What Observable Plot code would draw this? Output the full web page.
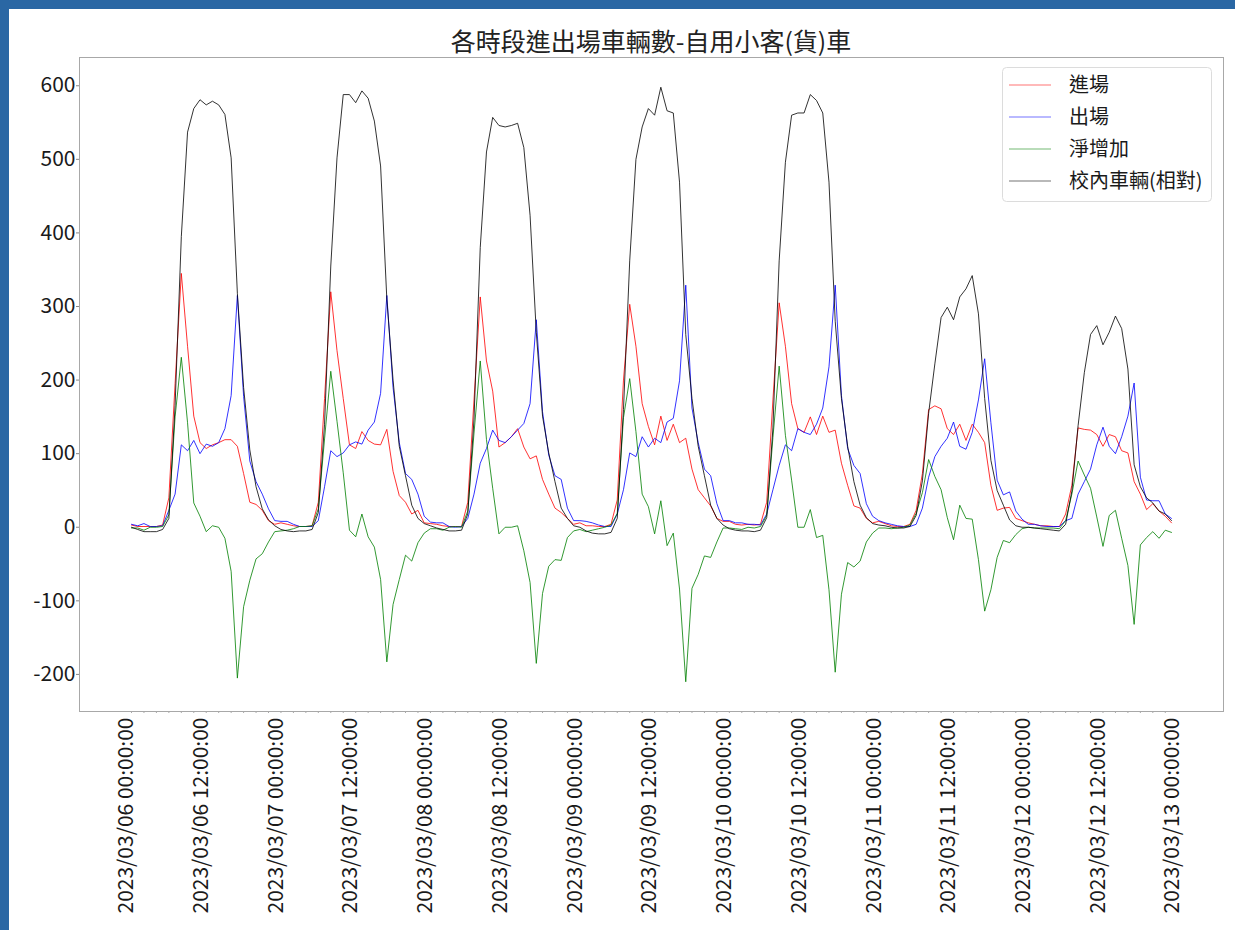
<!DOCTYPE html>
<html>
<head>
<meta charset="utf-8">
<script src="https://cdn.jsdelivr.net/npm/d3@7"></script>
<script src="https://cdn.jsdelivr.net/npm/@observablehq/plot@0.6"></script>
<style>
  html, body { margin: 0; padding: 0; background: #fff; }
  #page { position: relative; width: 1235px; height: 930px; overflow: hidden;
          font-family: "Noto Sans CJK TC", "Noto Sans CJK SC", sans-serif; }
  .band { position: absolute; background: #2a67a4; }
  #title { position: absolute; left: 79px; width: 1144px; top: 28px; text-align: center;
           font-size: 25px; line-height: 25px; color: #222; white-space: nowrap; }
  #chart { position: absolute; left: 0; top: 0; }
  #legend { position: absolute; left: 1002px; top: 67px; }
</style>
</head>
<body>
<div id="page">
  <div id="chart"></div>
  <div class="band" style="left:0;top:0;width:9px;height:930px;"></div>
  <div class="band" style="left:0;top:0;width:1235px;height:9px;"></div>
  <div id="title"></div>
  <div id="legend"></div>
</div>
<script>
// ---------------- data ----------------
const titleText = "各時段進出場車輛數-自用小客(貨)車";
const seriesNames = ["進場", "出場", "淨增加", "校內車輛(相對)"];
const seriesColors = ["#ff0000", "#0000ff", "#008000", "#000000"];

// hourly timestamps 2023/03/06 00:00 .. 2023/03/12 23:00
const startTime = new Date(Date.UTC(2023, 2, 6, 0));
const endTime = new Date(Date.UTC(2023, 2, 13, 0));
const times = d3.utcHour.range(startTime, endTime);

// 進場 (in)
const inbound = [
  3,1,1,1,1,3,40,195,345,246,151,115,107,112,115,119,119,110,73,34,31,23,9,4,
  6,4,2,1,1,2,34,175,320,240,175,112,107,130,118,113,112,133,76,43,34,18,23,6,
  5,4,2,1,1,1,34,173,313,226,185,109,115,123,134,109,93,97,65,45,26,20,12,4,
  6,2,2,1,1,4,37,200,303,246,168,137,112,151,118,140,115,121,79,51,40,29,12,8,
  8,4,3,4,3,4,34,173,305,246,168,134,129,150,126,151,129,132,87,57,29,26,12,6,
  8,5,2,1,1,4,23,73,160,165,161,134,126,140,118,140,129,115,57,23,26,27,12,9,
  6,4,2,2,1,1,18,57,135,133,132,126,110,126,123,104,101,62,45,24,32,22,15,6
];
// 出場 (out)
const outbound = [
  4,2,5,1,1,2,23,45,112,104,118,100,113,110,115,134,179,315,178,90,62,45,25,9,
  8,8,4,1,1,1,9,55,104,96,101,112,116,113,132,143,182,315,190,115,73,65,45,15,
  7,6,6,1,0,1,12,45,87,107,132,118,115,123,132,141,168,282,157,98,70,65,26,9,
  9,8,6,3,1,1,18,51,101,96,123,109,121,115,143,148,199,329,162,115,79,70,32,9,
  9,6,6,4,4,3,18,51,84,112,104,134,129,126,140,162,218,329,179,107,84,73,32,15,
  9,6,4,2,1,1,4,26,68,96,110,121,143,110,106,129,173,229,142,64,44,48,22,11,
  4,4,2,1,1,1,9,12,45,62,79,112,136,110,100,123,151,196,68,37,36,36,18,12
];
// 淨增加 (net)
const netChange = [
  -1,-1,-4,0,0,1,17,150,231,142,33,15,-6,2,0,-15,-60,-205,-108,-72,-43,-36,-20,-6,
  -5,-4,-2,1,1,2,25,120,212,144,74,-4,-13,18,-13,-27,-71,-183,-105,-71,-38,-46,-21,-8,
  -2,-2,-4,0,1,0,22,128,226,119,53,-9,0,0,2,-32,-75,-185,-90,-53,-44,-45,-14,-5,
  -3,-6,-4,-2,0,3,19,149,202,130,45,28,-9,36,-25,-8,-84,-210,-83,-64,-39,-41,-20,-1,
  -1,-2,-3,0,-1,1,16,122,219,125,64,0,0,24,-14,-11,-85,-197,-91,-48,-54,-46,-20,-8,
  -1,-1,-2,-1,0,3,19,47,92,69,51,13,-17,30,12,11,-44,-114,-85,-41,-18,-21,-10,-2,
  0,-1,-1,-1,-1,-2,9,45,90,71,53,14,-26,16,23,-15,-52,-132,-24,-14,-6,-15,-4,-7
];
// 校內車輛(相對) (vehicles on campus, relative)
const onCampus = [
  0,-3,-6,-6,-6,-3,12,165,395,537,569,581,574,579,574,561,502,318,190,105,55,25,10,2,
  -3,-5,-6,-5,-5,-3,20,140,355,502,588,588,577,593,583,552,491,310,200,110,70,30,12,5,
  2,-1,-3,-5,-5,-4,18,147,380,510,557,546,544,546,549,516,424,265,151,101,62,26,12,2,
  0,-5,-8,-9,-9,-7,12,160,362,500,544,569,560,598,566,563,469,262,175,110,70,30,12,3,
  -2,-4,-5,-5,-6,-4,13,135,362,496,560,563,563,588,580,563,469,280,175,110,62,30,13,5,
  3,2,0,-1,-1,1,16,63,155,222,285,299,282,313,324,342,290,175,91,50,30,10,2,0,
  0,-1,-2,-3,-4,-5,4,49,138,210,262,274,248,265,287,270,215,85,55,40,33,22,18,9
];

const yTicks = [-200, -100, 0, 100, 200, 300, 400, 500, 600];
const xTicks = d3.utcHour.every(12).range(startTime, new Date(+endTime + 1));
const xMinorTicks = d3.utcHour.every(2).range(startTime, endTime);
const xTickFormat = d3.utcFormat("%Y/%m/%d %H:%M:%S");

// ---------------- chart ----------------
const allSeries = [inbound, outbound, netChange, onCampus];
const allVals = allSeries.flat();
const vMin = d3.min(allVals), vMax = d3.max(allVals);
const yPad = (vMax - vMin) * 0.05;
const t0 = +times[0], t1 = +times[times.length - 1];
const xPad = (t1 - t0) * 0.05;

const plot = Plot.plot({
  width: 1235,
  height: 930,
  marginLeft: 79,
  marginRight: 12,
  marginTop: 57,
  marginBottom: 219,
  style: { fontFamily: "'Noto Sans CJK TC', 'Noto Sans CJK SC', sans-serif", fontSize: "21px",
           color: "#1a1a1a", background: "transparent", overflow: "visible" },
  x: { type: "utc", domain: [new Date(t0 - xPad), new Date(t1 + xPad)] },
  y: { domain: [vMin - yPad, vMax + yPad] },
  marks: [
    Plot.frame({ stroke: "#a8a8a8" }),
    Plot.axisY({ ticks: yTicks, tickSize: 3, tickPadding: 1, tickFormat: d => String(d),
                 label: null, fontSize: 21, stroke: "#888" }),
    Plot.axisX({ ticks: xMinorTicks, tickSize: 2, tickFormat: () => "", label: null,
                 stroke: "#aaa" }),
    Plot.axisX({ ticks: xTicks, tickFormat: xTickFormat, tickRotate: -90, tickSize: 0,
                 tickPadding: 6, label: null, fontSize: 21, dx: -5 }),
    ...allSeries.map((vals, k) =>
      Plot.line(vals, { x: times, y: vals, stroke: seriesColors[k], strokeWidth: 1,
                        strokeOpacity: 0.8 }))
  ]
});
document.getElementById("chart").appendChild(plot);

document.getElementById("title").textContent = titleText;

// ---------------- legend ----------------
const ns = "http://www.w3.org/2000/svg";
const lg = document.createElementNS(ns, "svg");
lg.setAttribute("width", 211);
lg.setAttribute("height", 136);
const box = document.createElementNS(ns, "rect");
box.setAttribute("x", 0.5); box.setAttribute("y", 0.5);
box.setAttribute("width", 209); box.setAttribute("height", 134);
box.setAttribute("rx", 4);
box.setAttribute("fill", "rgba(255,255,255,0.85)");
box.setAttribute("stroke", "#dcdcdc");
lg.appendChild(box);
seriesNames.forEach((name, k) => {
  const cy = 18 + k * 32;
  const ln = document.createElementNS(ns, "line");
  ln.setAttribute("x1", 7); ln.setAttribute("x2", 49);
  ln.setAttribute("y1", cy); ln.setAttribute("y2", cy);
  ln.setAttribute("stroke", seriesColors[k]);
  ln.setAttribute("stroke-opacity", 0.55);
  ln.setAttribute("stroke-width", 1);
  lg.appendChild(ln);
  const tx = document.createElementNS(ns, "text");
  tx.setAttribute("x", 67); tx.setAttribute("y", cy + 7);
  tx.setAttribute("font-size", 20);
  tx.setAttribute("fill", "#1a1a1a");
  tx.setAttribute("font-family", "'Noto Sans CJK TC', sans-serif");
  tx.textContent = name;
  lg.appendChild(tx);
});
document.getElementById("legend").appendChild(lg);
</script>
</body>
</html>
